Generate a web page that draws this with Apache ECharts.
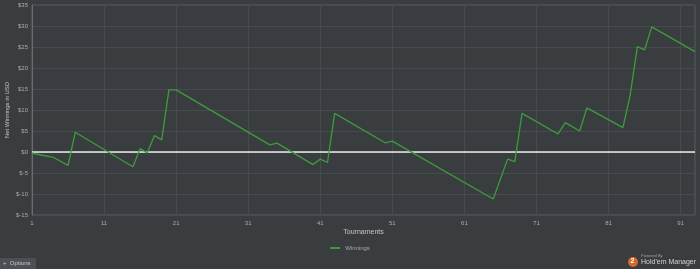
<!DOCTYPE html>
<html>
<head>
<meta charset="utf-8">
<script src="https://cdn.jsdelivr.net/npm/echarts@6/dist/echarts.min.js"></script>
<style>
html,body{margin:0;padding:0;background:#3a3d40;}
#chart{width:700px;height:269px;}
</style>
</head>
<body>
<div id="chart"></div>
<script>
// Tournament numbers (vertices of the cumulative line) and net winnings in USD
const tournaments = [1, 4, 6, 7, 15, 16, 17, 18, 19, 20, 21, 34, 35, 40, 41, 42, 43, 50, 51, 65, 67, 68, 69, 74, 75, 77, 78, 83, 84, 85, 86, 87, 93];
const winnings   = [-0.3, -1.3, -3.2, 4.7, -3.5, 0.8, -0.2, 3.9, 2.9, 14.8, 14.8, 1.7, 2.1, -3.0, -1.7, -2.5, 9.2, 2.2, 2.6, -11.2, -1.7, -2.3, 9.2, 4.3, 7.0, 5.0, 10.5, 5.8, 13.5, 25.1, 24.3, 29.8, 23.9];
const yTicks = [-15, -10, -5, 0, 5, 10, 15, 20, 25, 30, 35];
const xTicks = [1, 11, 21, 31, 41, 51, 61, 71, 81, 91];
const seriesName = 'Winnings';

const data = tournaments.map((t, i) => [t, winnings[i]]);
const labelColor = '#a9abad';
const font = 'Liberation Sans';

const chart = echarts.init(document.getElementById('chart'));
chart.setOption({
  backgroundColor: '#3a3d40',
  animation: false,
  textStyle: { fontFamily: font },
  grid: { left: 32, right: 5, top: 5, bottom: 54, show: true, borderColor: '#5b5e61', borderWidth: 1, containLabel: false, outerBoundsMode: 'none' },
  legend: {
    data: [seriesName],
    left: 'center',
    top: 240,
    itemWidth: 10,
    itemHeight: 2,
    icon: 'rect',
    textStyle: { color: labelColor, fontSize: 6, fontFamily: font }
  },
  xAxis: {
    type: 'value',
    min: xTicks[0],
    max: 93,
    interval: 10,
    name: 'Tournaments',
    nameLocation: 'middle',
    nameGap: 14,
    nameMoveOverlap: false,
    nameTextStyle: { color: '#c4c6c8', fontSize: 7, fontFamily: font },
    axisLine: { show: true, lineStyle: { color: '#6a6d70' } },
    axisTick: { show: false },
    axisLabel: { color: labelColor, fontSize: 6, margin: 5, showMaxLabel: false, fontFamily: font },
    splitLine: { show: true, lineStyle: { color: '#474a4e', width: 1 } }
  },
  yAxis: {
    type: 'value',
    min: yTicks[0],
    max: yTicks[yTicks.length - 1],
    interval: 5,
    name: 'Net Winnings in USD',
    nameLocation: 'middle',
    nameGap: 22,
    nameMoveOverlap: false,
    nameTextStyle: { color: '#c4c6c8', fontSize: 6, fontFamily: font },
    axisLine: { show: true, lineStyle: { color: '#6a6d70' } },
    axisTick: { show: false },
    axisLabel: { color: labelColor, fontSize: 6, margin: 4, formatter: v => '$' + v, fontFamily: font },
    splitLine: { show: true, lineStyle: { color: '#474a4e', width: 1 } }
  },
  series: [{
    name: seriesName,
    type: 'line',
    data: data,
    showSymbol: false,
    symbol: 'none',
    lineStyle: { color: '#3d9c3a', width: 1.3 },
    itemStyle: { color: '#3d9c3a' },
    z: 3,
    markLine: {
      silent: true,
      symbol: 'none',
      label: { show: false },
      lineStyle: { color: '#e8e8e8', width: 1.5, type: 'solid' },
      data: [{ yAxis: 0 }],
      z: 2
    }
  }],
  graphic: [
    { type: 'rect', left: 0, top: 258, shape: { width: 36, height: 11 }, style: { fill: '#4c4f53' } },
    { type: 'text', left: 3, top: 260, style: { text: '+  Options', fill: '#c8c8c8', font: '6px ' + font } },
    { type: 'circle', shape: { cx: 633, cy: 262, r: 5 }, style: { fill: '#d9662b' } },
    { type: 'text', left: 630.5, top: 258, style: { text: '2', fill: '#ffffff', font: 'bold 7px ' + font } },
    { type: 'text', left: 641, top: 254, style: { text: 'Powered By', fill: '#a0a2a4', font: '4px ' + font } },
    { type: 'text', left: 641, top: 259, style: { text: "Hold'em Manager", fill: '#d0d2d4', font: '7px ' + font } }
  ]
});
</script>
</body>
</html>
